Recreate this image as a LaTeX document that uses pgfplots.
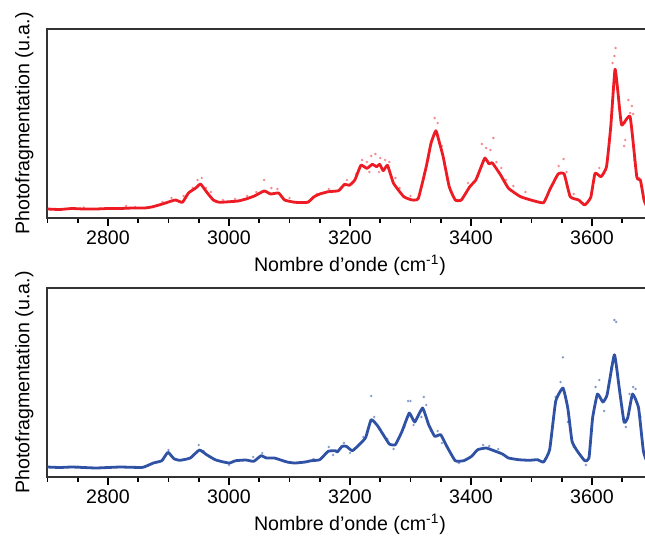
\documentclass[border=0pt]{standalone}
\usepackage{pgfplots}
\pgfplotsset{compat=1.18}
\usepackage{fontspec}
\setmainfont{Liberation Sans}
\definecolor{cred}{RGB}{237,28,36}
\definecolor{cblue}{RGB}{48,82,165}
\pgfplotsset{
  myaxis/.style={
    scale only axis, width=302.5pt, height=94.5pt,
    xmin=2700, xmax=3700, ymin=0, ymax=189,
    ytick=\empty,
    xtick={2800,3000,3200,3400,3600},
    minor xtick={2700,2750,2850,2900,2950,3050,3100,3150,3250,3300,3350,3450,3500,3550,3650},
    tick align=outside, xtick pos=bottom,
    major tick length=4pt, minor tick length=2.4pt,
    every tick/.style={black, line width=0.9pt},
    axis line style={line width=1pt, black!80},
    /pgf/number format/assume math mode=true,
    /pgf/number format/1000 sep={},
    tick label style={font=\fontsize{9.8}{11}\selectfont},
    xticklabel style={yshift=1pt},
    label style={font=\fontsize{9.8}{11}\selectfont},
    xlabel={Nombre d'onde (cm\textsuperscript{-1})},
    ylabel={Photofragmentation (u.a.)},
    xlabel style={at={(axis description cs:0.5,0)}, anchor=north, yshift=-15pt},
    ylabel style={at={(axis description cs:0,0.5)}, anchor=south, yshift=3.5pt},
    clip=true,
  }
}
\pgfplotstableread{
x y
2700 9
2720 8.5
2740 9.5
2760 9
2780 9
2800 9.5
2820 9.5
2840 10
2860 10
2872 11
2890 14
2905 17
2912 18
2923 15.7
2933 25
2945 30
2953 34
2963 26
2974 18
2984 15.7
3001 16.3
3015 17
3028 19
3042 22
3058 27
3069 24
3082 25
3092 18
3109 15.7
3130 15.7
3140 21
3150 24
3164 26.3
3181 27.3
3191 33.7
3199 32.7
3208 38
3218 52.7
3228 49.7
3237 53.7
3244 51.3
3249 53.7
3255 47.3
3262 52.7
3272 34.7
3289 21.3
3303 18
3313 19.7
3326 51.3
3334 75
3342 87.3
3348 75
3354 61.3
3364 31.3
3374 18
3384 18
3398 31.3
3408 38
3416 50
3423 60
3430 54
3435 55.3
3449 43
3462 29.7
3482 21.3
3503 17.3
3520 15.3
3530 28
3544 44
3554 44
3564 21.3
3578 18
3588 13
3598 20.7
3605 44.7
3615 41.3
3624 51.3
3631 91.3
3638 148.7
3643 125
3649 93
3663 101.3
3674 41.3
3680 38
3686 18
3692 10
3700 9
}\redcurve
\pgfplotstableread{
x y
2760 10.5
2830 12
2845 11
2890 16
2905 20
2925 22
2940 30
2948 38
2955 40
2962 30
2970 26
2990 18
3010 19
3030 22
3045 26
3058 38
3070 30
3080 29
3100 20
3120 15
3145 24
3165 29
3185 30
3195 38
3210 44
3220 58
3228 56
3235 62
3242 64
3250 60
3258 58
3265 56
3232 46
3248 46
3275 40
3282 30
3300 22
3330 60
3340 100
3345 95
3352 72
3360 44
3395 35
3410 42
3418 74
3425 70
3432 68
3437 80
3442 56
3450 50
3458 38
3470 32
3490 26
3545 52
3553 59
3558 46
3570 24
3600 28
3612 50
3620 46
3628 70
3634 155
3637 162
3639 170
3643 120
3655 95
3660 118
3663 105
3666 112
3668 104
3655 78
3653 72
3670 58
3678 40
}\reddots
\pgfplotstableread{
x y
2700 10
2720 9.5
2740 10
2760 9.5
2780 9
2800 9.5
2820 10
2840 9.7
2858 9.7
2875 14
2889 16.3
2899 24.7
2909 18.3
2919 16.7
2936 19
2951 27
2963 22.3
2977 17.3
2991 15
3001 14
3011 16.3
3028 17
3041 15.7
3053 21.3
3062 19
3075 19
3096 15
3109 14
3126 15
3136 16.3
3150 17.3
3164 25.7
3176 26.3
3179 25
3187 30.7
3194 30.7
3204 26.3
3218 34
3226 39.7
3235 57.3
3245 51.7
3255 42.3
3265 33
3275 32.3
3286 45.7
3298 64
3307 55
3320 69
3330 52.3
3340 40.7
3350 42.3
3360 30.7
3374 16.3
3388 16.3
3401 20.7
3411 27.3
3425 29
3438 26.3
3452 23
3462 19
3479 17.3
3496 16.7
3510 17.3
3520 15
3530 27.3
3540 75.7
3552 89
3560 69
3567 35.7
3576 25.7
3588 16.3
3595 19
3601 59
3609 83
3618 75
3625 82.3
3637 122.3
3645 89
3653 55
3659 59
3667 83
3677 69
3685 25.7
3692 14
3700 12
}\bluecurve
\pgfplotstableread{
x y
2750 10.5
2880 15
2900 27
2905 21
2950 32
2958 26
3000 12
3040 20
3055 24
3140 18
3165 30
3172 22
3190 34
3200 24
3222 40
3235 81
3240 60
3250 48
3262 38
3272 28
3290 50
3296 76
3300 76
3305 52
3318 60
3322 80
3326 72
3345 46
3352 34
3380 14
3420 32
3430 31
3445 28
3540 80
3548 95
3552 119.7
3560 55
3570 30
3590 12
3606 90
3612 97
3620 66
3632 110
3637 157
3640 155
3650 70
3656 50
3662 83
3668 90
3672 88
3680 60
}\bluedots
\begin{document}
\begin{tikzpicture}
\useasboundingbox (0,0) rectangle (322.5pt,-269pt);
\begin{axis}[myaxis, at={(23.75pt,-14.5pt)}, anchor=north west]
\addplot[only marks, mark=*, mark size=0.45pt, cred, opacity=0.35] table {\reddots};
\addplot[cred, line width=1.4pt, line join=round, smooth, tension=0.25] table {\redcurve};
\end{axis}
\begin{axis}[myaxis, at={(23.75pt,-144pt)}, anchor=north west]
\addplot[only marks, mark=*, mark size=0.45pt, cblue, opacity=0.4] table {\bluedots};
\addplot[cblue, line width=1.4pt, line join=round, smooth, tension=0.25] table {\bluecurve};
\end{axis}
\end{tikzpicture}
\end{document}
